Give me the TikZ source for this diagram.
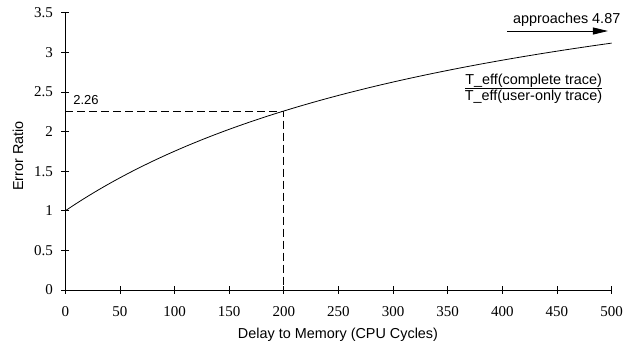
\documentclass[tikz,border=0pt]{standalone}
\usepackage{fontspec}
\setmainfont{Liberation Serif}
\setsansfont{Liberation Sans}
\usetikzlibrary{arrows.meta, positioning}

\begin{document}
\begin{tikzpicture}[x=1.0925pt, y=79.2pt, line width=0.8pt,
    numlab/.style={font=\fontsize{15}{15}\selectfont, inner sep=0pt},
    txtlab/.style={font=\sffamily\fontsize{14.4}{16}\selectfont, inner sep=0pt},
    guide/.style={dash pattern=on 8pt off 4pt}]
  \useasboundingbox (-59.77,-0.8081) rectangle (520.55,3.6616);

  % axes
  \coordinate (O) at (0,0);
  \coordinate (xend) at (500,0);
  \coordinate (yend) at (0,3.5);
  \draw (O) -- (xend);
  \draw (O) -- (yend);

  \foreach \x in {0,50,...,500}{
    \draw (\x,0) ++(0,4pt) -- ++(0,-8pt);
    \node[numlab, yshift=-22pt] (xl\x) at (\x,0) {\x};
  }
  \foreach \y [count=\i] in {0,0.5,1,1.5,2,2.5,3,3.5}{
    \draw (0,\y) ++(-4pt,0) -- ++(8pt,0);
    \node[numlab, anchor=east, xshift=-12pt] (yl\i) at (0,\y) {\y};
  }

  \node[txtlab, rotate=90] (ylab) at (-43.3,1.692) {Error Ratio};
  \node[txtlab] (xlab) at (249.6,-0.568) {Delay to Memory (CPU Cycles)};

  % ratio curve
  \draw[domain=0:500, samples=100, smooth]
    plot (\x, {(1+0.0117552*\x)/(1+0.00241379*\x)});

  % value at 200 cycles
  \coordinate (P) at (200,2.26);
  \draw[guide] (O |- P) -- (P) -- (P |- O);
  \node[txtlab, font=\sffamily\fontsize{13}{14}\selectfont, anchor=west] (lev) at (7,2.40) {2.26};

  % limit
  \coordinate (arrS) at (404.3,3.27);
  \coordinate (arrE) at (496.7,3.27);
  \draw[-{Triangle[length=15pt,width=7pt]}] (arrS) -- (arrE);
  \node[txtlab] (limit) at (458.9,3.409) {approaches 4.87};

  % ratio definition
  \coordinate (bar) at (428.6,2.547);
  \node[txtlab, above=0.5pt of bar] (fracnum) {T\_eff(complete trace)};
  \node[txtlab, below=1pt of bar] (fracden) {T\_eff(user-only trace)};
  \draw[line width=0.6pt] (fracnum.west |- bar) -- (fracnum.east |- bar);
\end{tikzpicture}
\end{document}
